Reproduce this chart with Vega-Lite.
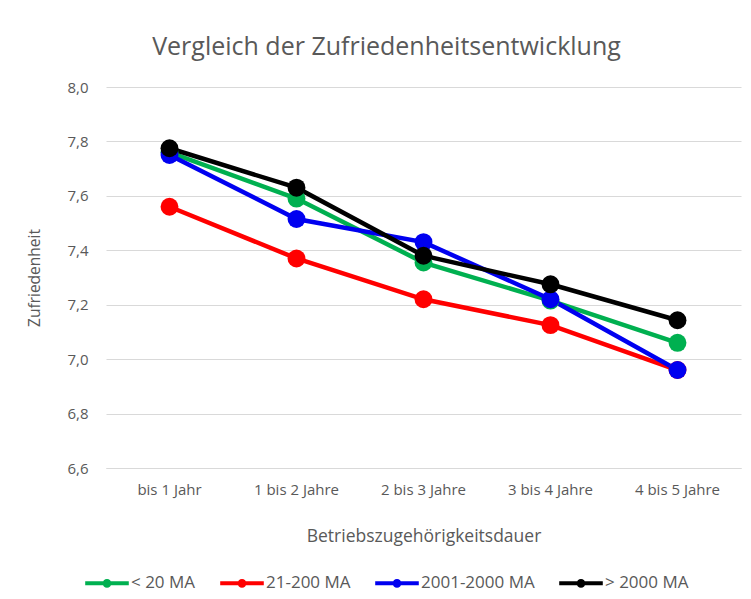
{
  "$schema": "https://vega.github.io/schema/vega-lite/v6.json",
  "width": 635,
  "height": 381,
  "autosize": {"type": "none"},
  "padding": {"left": 106, "top": 87, "right": 10, "bottom": 131},
  "background": "white",
  "title": {
    "text": "Vergleich der Zufriedenheitsentwicklung",
    "font": "Open Sans",
    "fontSize": 25,
    "fontWeight": "normal",
    "color": "#595959",
    "anchor": "middle",
    "frame": "group",
    "baseline": "alphabetic",
    "offset": 0,
    "dx": -37
  },
  "data": {
    "values": [
      {"dauer": "bis 1 Jahr", "gruppe": "< 20 MA", "wert": 7.76},
      {"dauer": "1 bis 2 Jahre", "gruppe": "< 20 MA", "wert": 7.59},
      {"dauer": "2 bis 3 Jahre", "gruppe": "< 20 MA", "wert": 7.355},
      {"dauer": "3 bis 4 Jahre", "gruppe": "< 20 MA", "wert": 7.215},
      {"dauer": "4 bis 5 Jahre", "gruppe": "< 20 MA", "wert": 7.06},
      {"dauer": "bis 1 Jahr", "gruppe": "21-200 MA", "wert": 7.56},
      {"dauer": "1 bis 2 Jahre", "gruppe": "21-200 MA", "wert": 7.37},
      {"dauer": "2 bis 3 Jahre", "gruppe": "21-200 MA", "wert": 7.22},
      {"dauer": "3 bis 4 Jahre", "gruppe": "21-200 MA", "wert": 7.125},
      {"dauer": "4 bis 5 Jahre", "gruppe": "21-200 MA", "wert": 6.96},
      {"dauer": "bis 1 Jahr", "gruppe": "2001-2000 MA", "wert": 7.75},
      {"dauer": "1 bis 2 Jahre", "gruppe": "2001-2000 MA", "wert": 7.515},
      {"dauer": "2 bis 3 Jahre", "gruppe": "2001-2000 MA", "wert": 7.43},
      {"dauer": "3 bis 4 Jahre", "gruppe": "2001-2000 MA", "wert": 7.22},
      {"dauer": "4 bis 5 Jahre", "gruppe": "2001-2000 MA", "wert": 6.96},
      {"dauer": "bis 1 Jahr", "gruppe": "> 2000 MA", "wert": 7.775},
      {"dauer": "1 bis 2 Jahre", "gruppe": "> 2000 MA", "wert": 7.63},
      {"dauer": "2 bis 3 Jahre", "gruppe": "> 2000 MA", "wert": 7.38},
      {"dauer": "3 bis 4 Jahre", "gruppe": "> 2000 MA", "wert": 7.275},
      {"dauer": "4 bis 5 Jahre", "gruppe": "> 2000 MA", "wert": 7.143}
    ]
  },
  "encoding": {
    "x": {
      "field": "dauer",
      "type": "nominal",
      "sort": ["bis 1 Jahr", "1 bis 2 Jahre", "2 bis 3 Jahre", "3 bis 4 Jahre", "4 bis 5 Jahre"],
      "scale": {"type": "band", "paddingInner": 0, "paddingOuter": 0},
      "axis": {
        "title": "Betriebszugehörigkeitsdauer",
        "labelAngle": 0,
        "labelPadding": 14,
        "ticks": false,
        "domainColor": "#d9d9d9",
        "titlePadding": 30,
        "titleFontSize": 17.5
      }
    },
    "y": {
      "field": "wert",
      "type": "quantitative",
      "scale": {"domain": [6.6, 8.0], "zero": false, "nice": false},
      "axis": {
        "title": "Zufriedenheit",
        "values": [6.6, 6.8, 7.0, 7.2, 7.4, 7.6, 7.8, 8.0],
        "labelExpr": "replace(format(datum.value, '.1f'), '.', ',')",
        "ticks": false,
        "domain": false,
        "labelPadding": 18,
        "titlePadding": 24,
        "titleFontSize": 15.5,
        "gridColor": "#d9d9d9"
      }
    },
    "color": {
      "field": "gruppe",
      "type": "nominal",
      "sort": ["< 20 MA", "21-200 MA", "2001-2000 MA", "> 2000 MA"],
      "scale": {
        "domain": ["< 20 MA", "21-200 MA", "2001-2000 MA", "> 2000 MA"],
        "range": ["#00B050", "#FF0000", "#0000F0", "#000000"]
      },
      "legend": {
        "title": null,
        "orient": "none",
        "direction": "horizontal",
        "legendX": -23,
        "legendY": 472,
        "symbolType": "M-1,0H1M-0.11,0A0.11,0.11 0 1,0 0.11,0A0.11,0.11 0 1,0 -0.11,0Z",
        "symbolSize": 1900,
        "symbolStrokeWidth": 4,
        "columnPadding": 16,
        "labelOffset": 0,
        "encode": {
          "symbols": {"update": {"fill": {"scale": "color", "field": "value"}}}
        }
      }
    }
  },
  "layer": [
    {"mark": {"type": "line", "strokeWidth": 4.5}},
    {"mark": {"type": "point", "filled": true, "size": 320, "opacity": 1}}
  ],
  "config": {
    "font": "Open Sans",
    "view": {"stroke": null},
    "axis": {
      "labelFont": "Open Sans",
      "labelFontSize": 15,
      "labelColor": "#595959",
      "titleFont": "Open Sans",
      "titleFontWeight": "normal",
      "titleColor": "#595959"
    },
    "legend": {
      "labelFont": "Open Sans",
      "labelFontSize": 17,
      "labelColor": "#595959"
    }
  }
}
